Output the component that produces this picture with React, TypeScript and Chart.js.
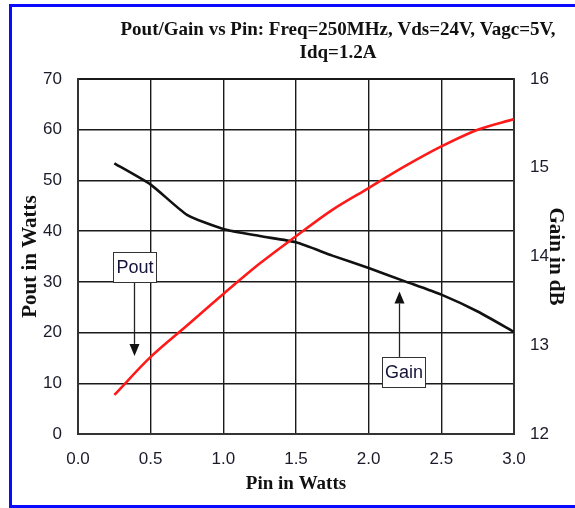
import React, { useEffect, useRef } from "react";
import { Chart, registerables } from "chart.js";

Chart.register(...registerables);

// ---- data ----
const pinWatts = [0.25, 0.5, 0.75, 1.0, 1.25, 1.5, 1.75, 2.0, 2.25, 2.5, 2.75, 3.0];
const poutWatts = [7.7, 15.2, 21.4, 27.6, 33.6, 39.0, 44.2, 48.5, 52.8, 56.7, 60.0, 62.1];
const gainDb = [15.05, 14.81, 14.47, 14.31, 14.23, 14.16, 14.01, 13.87, 13.72, 13.57, 13.38, 13.15];
const xTicks = [0, 0.5, 1.0, 1.5, 2.0, 2.5, 3.0];
const titleLines = ["Pout/Gain vs Pin: Freq=250MHz, Vds=24V, Vagc=5V,", "Idq=1.2A"];

// callouts in data units (x: Pin, y: Pout scale)
const poutNote = { text: "Pout", left: 0.24, right: 0.54, top: 35.8, bottom: 29.9, arrowX: 0.382, tipY: 15.4 };
const gainNote = { text: "Gain", left: 2.092, right: 2.388, top: 15.2, bottom: 9.3, arrowX: 2.209, tipY: 28.1 };

const SANS = "'Liberation Sans', Arial, sans-serif";
const SERIF = "'Liberation Serif', 'Times New Roman', serif";

const calloutPlugin = {
  id: "callouts",
  afterDatasetsDraw(chart: any) {
    const { ctx, scales } = chart;
    const xs = scales.x;
    const ys = scales.y;
    const notes = [
      { n: poutNote, down: true },
      { n: gainNote, down: false },
    ];
    ctx.save();
    for (const { n, down } of notes) {
      const ax = Math.round(xs.getPixelForValue(n.arrowX)) + 0.5;
      const boxTop = ys.getPixelForValue(n.top);
      const boxBot = ys.getPixelForValue(n.bottom);
      const tip = ys.getPixelForValue(n.tipY);
      const start = down ? boxBot : boxTop;
      const head = 12;
      const headEnd = down ? tip - head : tip + head;
      ctx.strokeStyle = "#222";
      ctx.lineWidth = 1.3;
      ctx.beginPath();
      ctx.moveTo(ax, start);
      ctx.lineTo(ax, headEnd);
      ctx.stroke();
      ctx.fillStyle = "#111";
      ctx.beginPath();
      ctx.moveTo(ax - 5, headEnd);
      ctx.lineTo(ax + 5, headEnd);
      ctx.lineTo(ax, tip);
      ctx.closePath();
      ctx.fill();
      const l = Math.round(xs.getPixelForValue(n.left)) + 0.5;
      const r = Math.round(xs.getPixelForValue(n.right)) + 0.5;
      const t = Math.round(boxTop) + 0.5;
      const b = Math.round(boxBot) + 0.5;
      ctx.fillStyle = "#fff";
      ctx.fillRect(l, t, r - l, b - t);
      ctx.strokeStyle = "#333";
      ctx.lineWidth = 1;
      ctx.strokeRect(l, t, r - l, b - t);
      ctx.fillStyle = "#14143a";
      ctx.font = `18px ${SANS}`;
      ctx.textAlign = "center";
      ctx.textBaseline = "middle";
      ctx.fillText(n.text, (l + r) / 2, (t + b) / 2 + 1);
    }
    ctx.restore();
  },
};

const titlePlugin = {
  id: "topTitle",
  afterDraw(chart: any) {
    const { ctx } = chart;
    ctx.save();
    ctx.fillStyle = "#111";
    ctx.font = `bold 19px ${SERIF}`;
    ctx.textAlign = "center";
    ctx.textBaseline = "alphabetic";
    ctx.fillText(titleLines[0], 338, 35);
    ctx.fillText(titleLines[1], 338, 58);
    ctx.restore();
  },
};

export default function App() {
  const ref = useRef<HTMLCanvasElement | null>(null);

  useEffect(() => {
    if (!ref.current) return;
    const edgeWidth = (ctx: any) => {
      const s = ctx.scale;
      const v = ctx.tick?.value;
      if (v === s.min || v === s.max) return 2;
      return 1.4;
    };
    const chart = new Chart(ref.current, {
      type: "line",
      data: {
        datasets: [
          {
            label: "Pout",
            data: pinWatts.map((x, i) => ({ x, y: poutWatts[i] })),
            borderColor: "#ff1a1a",
            borderWidth: 2.6,
            pointRadius: 0,
            tension: 0.4,
            cubicInterpolationMode: "monotone",
            yAxisID: "y",
          },
          {
            label: "Gain",
            data: pinWatts.map((x, i) => ({ x, y: gainDb[i] })),
            borderColor: "#111",
            borderWidth: 2.6,
            pointRadius: 0,
            tension: 0.2,
            yAxisID: "y1",
          },
        ],
      },
      options: {
        animation: false,
        responsive: false,
        layout: { padding: { top: 79, left: 0, right: 0, bottom: 0 } },
        plugins: { legend: { display: false }, tooltip: { enabled: false }, title: { display: false } },
        scales: {
          x: {
            type: "linear",
            min: 0,
            max: 3,
            afterBuildTicks: (s: any) => {
              s.ticks = xTicks.map((v) => ({ value: v }));
            },
            afterFit: (s: any) => {
              s.height = 74;
            },
            ticks: {
              padding: 15,
              color: "#1a1a2a",
              font: { family: SANS, size: 17 },
              callback: (v: any) => Number(v).toFixed(1),
              maxRotation: 0,
            },
            grid: { color: "#1a1a1a", lineWidth: edgeWidth as any, drawTicks: false },
            border: { color: "#333", width: 2 },
            title: {
              display: true,
              text: "Pin in Watts",
              color: "#111",
              font: { family: SERIF, size: 19, weight: "bold" },
              padding: { top: 0, bottom: 13 },
            },
          },
          y: {
            position: "left",
            min: 0,
            max: 70,
            ticks: { stepSize: 10, padding: 16, color: "#1a1a2a", font: { family: SANS, size: 17 } },
            afterFit: (s: any) => {
              s.width = 78;
            },
            grid: { color: "#1a1a1a", lineWidth: edgeWidth as any, drawTicks: false },
            border: { color: "#333", width: 2 },
            title: {
              display: true,
              text: "Pout in Watts",
              color: "#111",
              font: { family: SERIF, size: 21, weight: "bold" },
              padding: { top: 18, bottom: 0 },
            },
          },
          y1: {
            position: "right",
            min: 12,
            max: 16,
            ticks: { stepSize: 1, padding: 16, color: "#1a1a2a", font: { family: SANS, size: 17 } },
            afterFit: (s: any) => {
              s.width = 61;
            },
            grid: { display: false, drawTicks: false },
            border: { color: "#333", width: 2 },
            title: {
              display: true,
              text: "Gain in dB",
              color: "#111",
              font: { family: SERIF, size: 21, weight: "bold" },
              padding: { top: 7, bottom: 0 },
            },
          },
        },
      },
      plugins: [calloutPlugin, titlePlugin],
    } as any);
    return () => chart.destroy();
  }, []);

  return (
    <div style={{ position: "absolute", left: 0, top: 0, width: 575, height: 508, overflow: "hidden", background: "#fff" }}>
      <div
        style={{
          position: "absolute",
          left: 9,
          top: 4,
          width: 700,
          height: 504,
          boxSizing: "border-box",
          border: "3px solid #0a0aff",
        }}
      />
      <canvas ref={ref} width={575} height={508} style={{ position: "absolute", left: 0, top: 0 }} />
    </div>
  );
}
